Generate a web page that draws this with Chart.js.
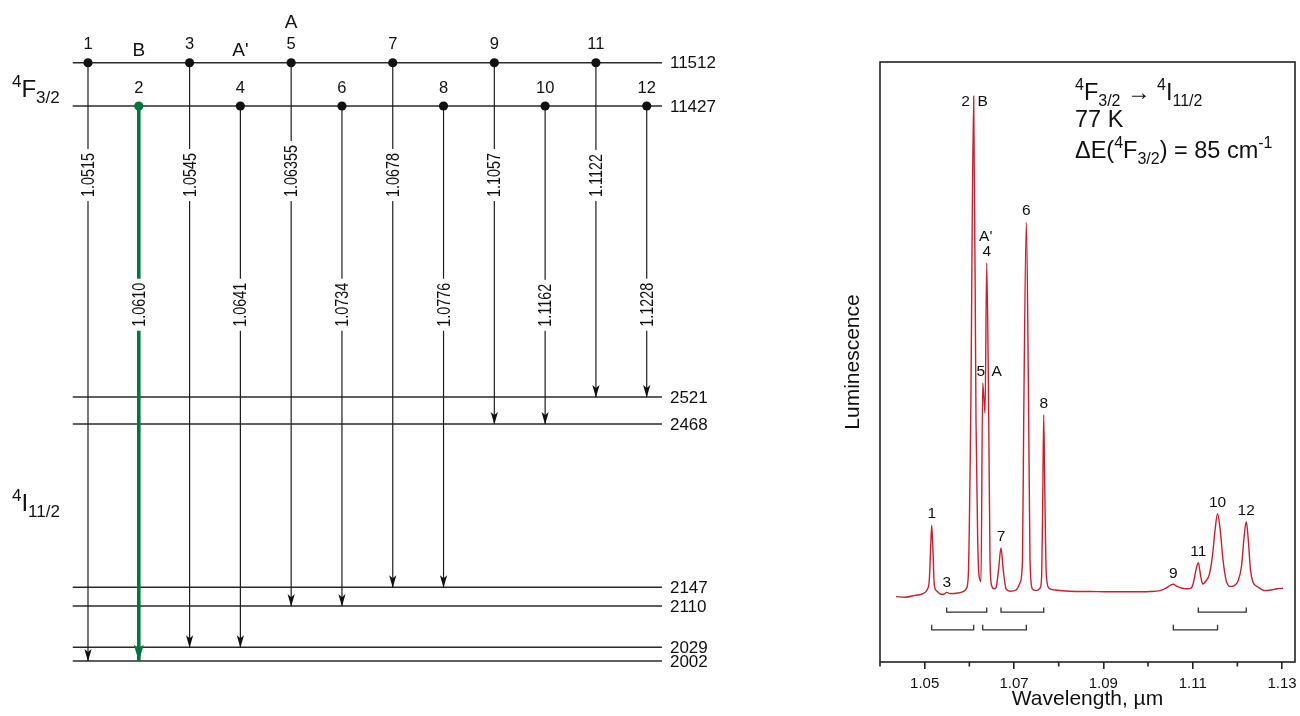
<!DOCTYPE html>
<html>
<head>
<meta charset="utf-8">
<script src="https://cdn.jsdelivr.net/npm/chart.js@4.4.0/dist/chart.umd.min.js"></script>
<style>
  html, body { margin: 0; padding: 0; background: #fff; }
  #wrap { position: relative; width: 1300px; height: 716px; overflow: hidden; }
  #levels { position: absolute; left: 0; top: 0; }
  #spectrum { position: absolute; left: 730px; top: 0; }
</style>
</head>
<body>
<div id="wrap">
  <canvas id="levels" width="730" height="716"></canvas>
  <canvas id="spectrum" width="570" height="716"></canvas>
</div>
<script>
// ---- energy levels (cm-1) ----
var upperLevels = [11512, 11427];
var lowerLevels = [2521, 2468, 2147, 2110, 2029, 2002];

// ---- transitions 1..12 ----
var transNo = [1, 2, 3, 4, 5, 6, 7, 8, 9, 10, 11, 12];
var transFrom = [11512, 11427, 11512, 11427, 11512, 11427, 11512, 11427, 11512, 11427, 11512, 11427];
var transTo = [2002, 2002, 2029, 2029, 2110, 2110, 2147, 2147, 2468, 2468, 2521, 2521];
var transWl = ["1.0515", "1.0610", "1.0545", "1.0641", "1.06355", "1.0734",
               "1.0678", "1.0776", "1.1057", "1.1162", "1.1122", "1.1228"];
var transTag = { 2: "B", 4: "A'", 5: "A" };

// ---- 77 K luminescence spectrum (arbitrary units) ----
var specWl = [1.04358, 1.04560, 1.04784, 1.04963, 1.05052, 1.05104, 1.05136, 1.05158, 1.05181, 1.05216,
              1.05276, 1.05366, 1.05433, 1.05493, 1.05567, 1.05746, 1.05880, 1.05936, 1.05977, 1.06030,
              1.06097, 1.06149, 1.06187, 1.06216, 1.06261, 1.06299, 1.06351, 1.06389, 1.06434, 1.06463,
              1.06501, 1.06552, 1.06597, 1.06653, 1.06709, 1.06760, 1.06821, 1.06910, 1.07045, 1.07134,
              1.07190, 1.07217, 1.07276, 1.07329, 1.07358, 1.07410, 1.07493, 1.07582, 1.07620, 1.07643,
              1.07665, 1.07692, 1.07723, 1.07783, 1.07918, 1.08253, 1.08701, 1.09149, 1.09596, 1.10044,
              1.10268, 1.10403, 1.10492, 1.10566, 1.10649, 1.10761, 1.10895, 1.10962, 1.11018, 1.11063,
              1.11126, 1.11175, 1.11224, 1.11298, 1.11376, 1.11444, 1.11500, 1.11556, 1.11612, 1.11679,
              1.11746, 1.11836, 1.11925, 1.12015, 1.12093, 1.12149, 1.12198, 1.12245, 1.12294, 1.12350,
              1.12462, 1.12619, 1.12754, 1.12888, 1.13022];
var specLum = [10.9, 10.8, 11.1, 11.4, 12.0, 13.7, 19.5, 22.8, 19.5, 12.8,
               11.8, 11.3, 11.3, 11.6, 11.4, 11.5, 11.8, 12.3, 14.5, 40.3,
               94.3, 40.3, 20.3, 14.5, 13.4, 46.5, 41.5, 66.5, 40.3, 17.0,
               12.7, 12.2, 12.4, 15.3, 19.0, 15.3, 12.2, 11.8, 12.0, 13.2,
               17.0, 40.3, 73.3, 40.3, 17.0, 12.2, 11.9, 12.3, 14.5, 27.0,
               41.2, 27.0, 14.5, 12.3, 12.0, 11.8, 11.75, 11.7, 11.7, 11.75,
               11.9, 12.3, 12.75, 12.95, 12.6, 12.3, 12.2, 12.3, 13.3, 15.0,
               16.55, 14.5, 13.0, 13.5, 14.7, 17.8, 22.0, 24.7, 22.3, 17.0,
               13.7, 12.6, 12.7, 13.5, 16.0, 20.7, 23.4, 20.3, 15.3, 13.3,
               12.5, 11.9, 12.0, 12.2, 12.3];

// peak tops in the spectrum, peak n at index n-1
var peakWl = [1.05158, 1.06097, 1.05493, 1.06389, 1.06299, 1.07276,
              1.06709, 1.07665, 1.10566, 1.11556, 1.11126, 1.12198];
var peakLum = [22.8, 94.3, 11.6, 66.5, 46.5, 73.3, 19.0, 41.2, 12.95, 24.7, 16.55, 23.4];

// pairs of lines that end on the same lower level (85 cm-1 apart)
var bracketsHigh = [[3, 4], [7, 8], [11, 12]];
var bracketsLow = [[1, 2], [5, 6], [9, 10]];

var xMajor = [1.05, 1.07, 1.09, 1.11, 1.13];
var xMinor = [1.04, 1.06, 1.08, 1.10, 1.12];

// ---- styling ----
var REG = '"Liberation Sans", Arial, Helvetica, sans-serif';
var INK = "#1e1e1e";
var GREEN = "#00773c";
var RED = "#cc1f2e";
var NARROW = 0.8; // horizontal squeeze for the condensed wavelength labels

var BREAK = 8334; // broken energy axis between 4F3/2 and 4I11/2
function disp(e) { return e > 5000 ? e - BREAK : e; }

// text with superscripts / subscripts; parts = [[text, ""|"sup"|"sub"], ...]
function richText(ctx, x, y, parts, size, family) {
  var small = Math.round(size * 0.7);
  ctx.textAlign = "left";
  ctx.textBaseline = "alphabetic";
  parts.forEach(function (p) {
    ctx.font = (p[1] ? small : size) + "px " + family;
    var dy = p[1] === "sup" ? -size * 0.42 : (p[1] === "sub" ? size * 0.24 : 0);
    ctx.fillText(p[0], x, y + dy);
    x += ctx.measureText(p[0]).width;
  });
}

function arrowHead(ctx, x, y, len, half, color) {
  ctx.beginPath();
  ctx.moveTo(x, y);
  ctx.lineTo(x - half, y - len);
  ctx.lineTo(x, y - len * 0.75);
  ctx.lineTo(x + half, y - len);
  ctx.closePath();
  ctx.fillStyle = color;
  ctx.fill();
}

// ================= energy level diagram =================
var LINE_L = 0.7, LINE_R = 12.3;      // level line ends, in transition units
var wlLabelBase = [2914, 2659];        // bottom of the rotated wavelength labels (odd, even)

var transSets = transNo.map(function (n, i) {
  var main = n === 2;
  return {
    type: "line",
    data: [{ x: n, y: disp(transFrom[i]) }, { x: n, y: disp(transTo[i]) }],
    borderColor: main ? GREEN : INK,
    borderWidth: main ? 3.6 : 1.2,
    pointRadius: [4.6, 0],
    pointBackgroundColor: main ? GREEN : "#111",
    pointBorderWidth: 0,
    order: 1
  };
});
var levelSets = upperLevels.concat(lowerLevels).map(function (e) {
  return {
    type: "line",
    data: [{ x: LINE_L, y: disp(e) }, { x: LINE_R, y: disp(e) }],
    borderColor: "#2b2b2b",
    borderWidth: 1.6,
    pointRadius: 0,
    order: 2
  };
});

var levelDecor = {
  id: "levelDecor",
  afterDatasetsDraw: function (chart) {
    var ctx = chart.ctx, xs = chart.scales.x, ys = chart.scales.y;
    ctx.save();

    // arrowheads at the lower level
    transNo.forEach(function (n, i) {
      var p = chart.getDatasetMeta(i).data[1];
      if (n === 2) arrowHead(ctx, p.x, p.y + 0.5, 17, 5, GREEN);
      else arrowHead(ctx, p.x, p.y + 0.5, 12.5, 3.6, "#111");
    });

    // rotated wavelength labels on the arrows
    transNo.forEach(function (n, i) {
      var x = xs.getPixelForValue(n);
      var y0 = ys.getPixelForValue(wlLabelBase[i % 2]);
      ctx.font = "18px " + REG;
      var w = ctx.measureText(transWl[i]).width * NARROW;
      ctx.fillStyle = "#fff";
      ctx.fillRect(x - 7, y0 - w - 4, 14, w + 8);
      ctx.save();
      ctx.translate(x, y0);
      ctx.rotate(-Math.PI / 2);
      ctx.scale(NARROW, 1);
      ctx.textAlign = "left";
      ctx.textBaseline = "middle";
      ctx.fillStyle = "#111";
      ctx.fillText(transWl[i], 0, 1);
      ctx.restore();
    });

    // level values on the right
    ctx.fillStyle = "#111";
    ctx.font = "17px " + REG;
    ctx.textAlign = "left";
    ctx.textBaseline = "middle";
    upperLevels.concat(lowerLevels).forEach(function (e) {
      ctx.fillText(String(e), xs.getPixelForValue(LINE_R) + 8, ys.getPixelForValue(disp(e)) + 1);
    });

    // transition numbers above the dots, and the letter tags
    ctx.textAlign = "center";
    var topY = ys.getPixelForValue(disp(upperLevels[0]));
    transNo.forEach(function (n, i) {
      var x = xs.getPixelForValue(n);
      ctx.font = "16.5px " + REG;
      ctx.fillText(String(n), x, ys.getPixelForValue(disp(transFrom[i])) - 18);
      if (transTag[n]) {
        ctx.font = "19px " + REG;
        ctx.fillText(transTag[n], x, topY - (n === 5 ? 40 : 12));
      }
    });

    // term symbols
    ctx.fillStyle = "#111";
    richText(ctx, 12, 97, [["4", "sup"], ["F", ""], ["3/2", "sub"]], 24, REG);
    richText(ctx, 12, 511, [["4", "sup"], ["I", ""], ["11/2", "sub"]], 24, REG);
    ctx.restore();
  }
};

new Chart(document.getElementById("levels").getContext("2d"), {
  type: "line",
  data: { datasets: transSets.concat(levelSets) },
  options: {
    responsive: false,
    animation: false,
    events: [],
    layout: { padding: { left: 62.6, right: 7.1, top: 30, bottom: 16 } },
    plugins: { legend: { display: false }, tooltip: { enabled: false } },
    scales: {
      x: { type: "linear", display: false, min: 0.5, max: 13.5 },
      y: { type: "linear", display: false, min: 1925.3, max: 3242.4 }
    }
  },
  plugins: [levelDecor]
});

// ================= spectrum =================
var BR_HIGH = [9.1, 8.3], BR_LOW = [6.2, 5.35];  // tick top, bar (luminescence units)

function bracketSet(pair, lv) {
  var a = peakWl[pair[0] - 1], b = peakWl[pair[1] - 1];
  return {
    type: "line",
    data: [{ x: a, y: lv[0] }, { x: a, y: lv[1] }, { x: b, y: lv[1] }, { x: b, y: lv[0] }],
    borderColor: "#333",
    borderWidth: 1.3,
    pointRadius: 0,
    tension: 0
  };
}

var peakTags = [
  // text, peak, dx, dy (px from the peak top)
  ["1", 1, 0, -11], ["2", 2, -8, 6], ["B", 2, 9, 6], ["3", 3, 0, -10],
  ["4", 4, 0, -11], ["A'", 4, -1, -26], ["5", 5, -2, -11], ["A", 5, 14, -11],
  ["6", 6, 0, -11], ["7", 7, 0, -11], ["8", 8, 0, -11], ["9", 9, 0, -11],
  ["10", 10, 0, -11], ["11", 11, 0, -11], ["12", 12, 0, -11]
];

var specDecor = {
  id: "specDecor",
  afterDraw: function (chart) {
    var ctx = chart.ctx, a = chart.chartArea, xs = chart.scales.x, ys = chart.scales.y;
    ctx.save();
    // frame
    ctx.strokeStyle = "#222";
    ctx.lineWidth = 1.6;
    ctx.strokeRect(a.left, a.top, a.right - a.left, a.bottom - a.top);
    // minor ticks
    ctx.beginPath();
    xMinor.forEach(function (v) {
      var x = xs.getPixelForValue(v);
      ctx.moveTo(x, a.bottom);
      ctx.lineTo(x, a.bottom + 4.5);
    });
    ctx.stroke();
    // peak labels
    ctx.fillStyle = "#111";
    ctx.font = "15.5px " + REG;
    ctx.textAlign = "center";
    ctx.textBaseline = "middle";
    peakTags.forEach(function (t) {
      var x = xs.getPixelForValue(peakWl[t[1] - 1]) + t[2];
      var y = ys.getPixelForValue(peakLum[t[1] - 1]) + t[3];
      ctx.fillText(t[0], x, y);
    });
    // legend text
    var lx = 345;
    richText(ctx, lx, 100, [["4", "sup"], ["F", ""], ["3/2", "sub"], [" \u2192 ", ""], ["4", "sup"], ["I", ""], ["11/2", "sub"]], 23.5, REG);
    richText(ctx, lx, 127, [["77 K", ""]], 23.5, REG);
    richText(ctx, lx, 158, [["\u0394E(", ""], ["4", "sup"], ["F", ""], ["3/2", "sub"], [") = 85 cm", ""], ["-1", "sup"]], 23.5, REG);
    ctx.restore();
  }
};

new Chart(document.getElementById("spectrum").getContext("2d"), {
  type: "line",
  data: {
    datasets: [{
      data: specWl.map(function (w, i) { return { x: w, y: specLum[i] }; }),
      borderColor: RED,
      borderWidth: 1.4,
      pointRadius: 0,
      cubicInterpolationMode: "monotone"
    }].concat(bracketsHigh.map(function (p) { return bracketSet(p, BR_HIGH); }),
              bracketsLow.map(function (p) { return bracketSet(p, BR_LOW); }))
  },
  options: {
    responsive: false,
    animation: false,
    events: [],
    layout: { padding: { left: 112.75, right: 5, top: 62, bottom: 6.5 } },
    plugins: { legend: { display: false }, tooltip: { enabled: false } },
    scales: {
      x: {
        type: "linear",
        min: 1.04,
        max: 1.1329,
        afterBuildTicks: function (scale) {
          scale.ticks = xMajor.map(function (v) { return { value: v }; });
        },
        afterFit: function (scale) {
          scale.height = 47.5;
          scale.paddingLeft = 0;
          scale.paddingRight = 0;
        },
        ticks: {
          autoSkip: false,
          maxRotation: 0,
          padding: 9,
          color: "#111",
          font: { family: REG, size: 15, lineHeight: 0.72 },
          callback: function (v) { return Number(v).toFixed(2); }
        },
        grid: { drawOnChartArea: false, drawTicks: true, tickLength: 7, color: "#222", lineWidth: 1.6 },
        border: { display: false },
        title: {
          display: true,
          text: "Wavelength, \u00b5m",
          color: "#111",
          padding: 0,
          font: { family: REG, size: 21, lineHeight: 1 }
        }
      },
      y: {
        type: "linear",
        min: 0,
        max: 100,
        ticks: { display: false },
        grid: { display: false, drawTicks: false },
        border: { display: false },
        title: {
          display: true,
          text: "Luminescence",
          color: "#111",
          padding: { top: 0, bottom: 16.25 },
          font: { family: REG, size: 21, lineHeight: 1 }
        }
      }
    }
  },
  plugins: [specDecor]
});
</script>
</body>
</html>
